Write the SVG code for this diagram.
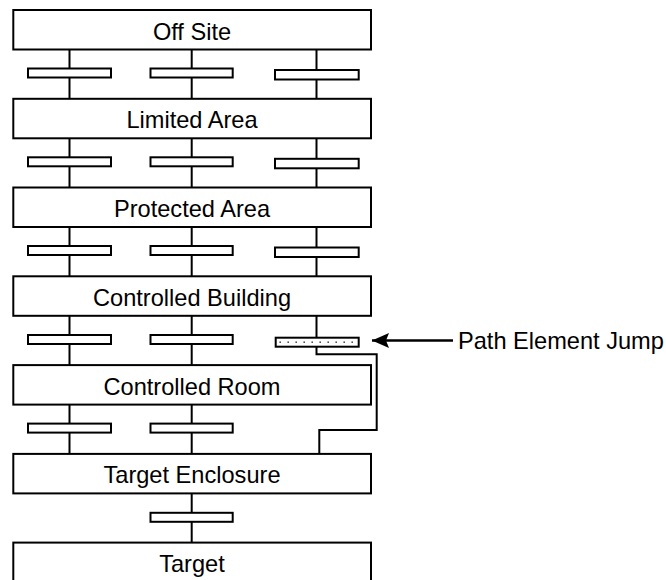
<svg xmlns="http://www.w3.org/2000/svg" width="666" height="580" viewBox="0 0 666 580">
<defs>
<style>
.box{fill:#fff;stroke:#000;stroke-width:2}
.bar{fill:#fff;stroke:#000;stroke-width:2}
.jump{fill:url(#stipple);stroke:#000;stroke-width:2}
.lbl{font-family:"Liberation Sans",Arial,sans-serif;font-size:23.6px;text-anchor:middle;fill:#000}
.note{font-family:"Liberation Sans",Arial,sans-serif;font-size:23.6px;fill:#000}
.wire{fill:none;stroke:#000;stroke-width:2}
.arrow{fill:none;stroke:#000;stroke-width:2.6}
</style>
<pattern id="stipple" patternUnits="userSpaceOnUse" x="276" y="338" width="8" height="9">
<rect width="8" height="9" fill="#fff"/>
<rect x="3.4" y="3.4" width="1.6" height="1.6" fill="#555"/>
</pattern>
<marker id="ah" markerWidth="18" markerHeight="16" refX="17" refY="8" orient="auto" markerUnits="userSpaceOnUse">
<path d="M0,0.5 L17,8 L0,15.5 L3,8 Z" fill="#000"/>
</marker>
</defs>
<rect width="666" height="580" fill="#fff"/>
<g id="connectors">
<path class="wire" d="M69.5,49.5V98.8M191.7,49.5V98.8M316.5,49.5V98.8"/>
<path class="wire" d="M69.5,138.3V187.5M191.7,138.3V187.5M316.5,138.3V187.5"/>
<path class="wire" d="M69.5,227V276.3M191.7,227V276.3M316.5,227V276.3"/>
<path class="wire" d="M69.5,315.8V365.1M191.7,315.8V365.1"/>
<path class="wire" d="M316.5,315.8V354.3H376.7V430H319.3V453.9"/>
<path class="wire" d="M69.5,404.6V453.9M191.7,404.6V453.9"/>
<path class="wire" d="M191.7,493.4V542.6"/>
<path class="arrow" d="M453,340.5H372" marker-end="url(#ah)"/>
</g>
<g id="bars">
<rect class="bar" x="28" y="68.5" width="83" height="9"/>
<rect class="bar" x="150.5" y="68.5" width="82.2" height="9"/>
<rect class="bar" x="275" y="70" width="83.7" height="9.5"/>
<rect class="bar" x="28" y="157.3" width="83" height="9"/>
<rect class="bar" x="150.5" y="157.3" width="82.2" height="9"/>
<rect class="bar" x="275" y="158.8" width="83.7" height="9.5"/>
<rect class="bar" x="28" y="246" width="83" height="9"/>
<rect class="bar" x="150.5" y="246" width="82.2" height="9"/>
<rect class="bar" x="275" y="247.5" width="83.7" height="9.5"/>
<rect class="bar" x="28" y="335" width="83" height="9"/>
<rect class="bar" x="150.5" y="335" width="82.2" height="9"/>
<rect class="jump" id="path-element-jump" x="275.7" y="337.7" width="83" height="9"/>
<rect class="bar" x="28" y="423.6" width="83" height="9"/>
<rect class="bar" x="150.5" y="423.6" width="82.2" height="9"/>
<rect class="bar" x="150.5" y="512.8" width="82.2" height="9"/>
</g>
<g id="off-site"><rect class="box" x="13.3" y="10" width="357.7" height="39.5"/><text class="lbl" x="192" y="39.5">Off Site</text></g>
<g id="limited-area"><rect class="box" x="13.3" y="98.8" width="357.7" height="39.5"/><text class="lbl" x="192" y="128.3">Limited Area</text></g>
<g id="protected-area"><rect class="box" x="13.3" y="187.5" width="357.7" height="39.5"/><text class="lbl" x="192" y="217">Protected Area</text></g>
<g id="controlled-building"><rect class="box" x="13.3" y="276.3" width="357.7" height="39.5"/><text class="lbl" x="192" y="305.8">Controlled Building</text></g>
<g id="controlled-room"><rect class="box" x="13.3" y="365.1" width="357.7" height="39.5"/><text class="lbl" x="192" y="394.6">Controlled Room</text></g>
<g id="target-enclosure"><rect class="box" x="13.3" y="453.9" width="357.7" height="39.5"/><text class="lbl" x="192" y="483.4">Target Enclosure</text></g>
<g id="target"><rect class="box" x="13.3" y="542.6" width="357.7" height="39.5"/><text class="lbl" x="192" y="572.1">Target</text></g>
<g id="label-jump"><text class="note" x="458" y="348.5">Path Element Jump</text></g>
</svg>
